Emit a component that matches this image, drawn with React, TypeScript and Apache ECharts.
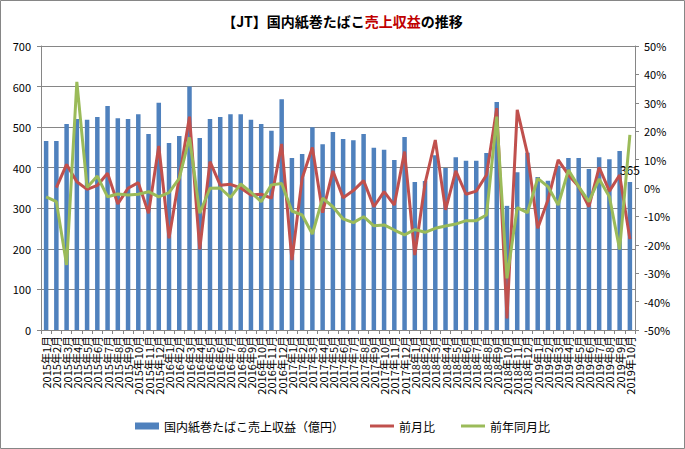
import React, { useEffect, useRef } from "react";
import * as echarts from "echarts";

const years = [2015, 2016, 2017, 2018, 2019];
const monthsPerYear = [12, 12, 12, 12, 10];
const categories: string[] = [];
years.forEach((y, i) => {
  for (let m = 1; m <= monthsPerYear[i]; m++) categories.push(`${y}年${m}月`);
});

const sales = [
  466, 466, 508, 520, 518, 525, 552, 522, 520, 532, 483, 560,
  461, 478, 600, 473, 520, 525, 532, 532, 518, 508, 491, 569,
  424, 434, 500, 458, 488, 471, 468, 483, 449, 444, 419, 476,
  365, 367, 431, 399, 426, 417, 417, 436, 562, 306, 389, 437,
  377, 368, 405, 424, 424, 397, 426, 421, 441, 365,
];

const momChange = [
  null, 0.1, 8.3, 2.2, -0.5, 0.9, 5.2, -5.6, -0.1, 1.9, -8.9, 14.8,
  -17.7, 3.7, 25.1, -21.6, 9.3, 1.0, 1.3, 0.0, -2.5, -2.2, -3.6, 15.5,
  -25.4, 3.4, 14.3, -8.7, 6.0, -3.4, -0.9, 2.6, -6.6, -1.3, -6.0, 12.8,
  -23.6, 1.6, 16.9, -7.7, 6.0, -2.2, -1.1, 4.6, 28.1, -45.9, 27.5, 12.0,
  -14.2, -4.2, 9.9, 4.6, 0.5, -6.6, 7.3, -1.1, 4.6, -18.0,
];

const yoyChange = [
  -3.1, -4.8, -27.1, 37.4, 0.2, 4.2, -3.1, -2.1, -2.5, -2.2, -1.3, -3.1,
  -1.6, 3.4, 17.8, -8.9, -0.1, 0.0, -3.3, 1.4, -1.5, -4.8, 1.1, 1.6,
  -8.1, -9.5, -16.2, -3.6, -6.6, -10.9, -12.2, -10.1, -13.3, -13.0, -14.8, -16.5,
  -14.6, -15.6, -14.2, -13.4, -12.7, -11.5, -11.5, -9.5, 25.1, -31.8, -6.9, -8.7,
  3.4, 0.5, -6.0, 6.3, 0.5, -4.8, 3.2, -3.1, -21.6, 18.7,
];

const seriesNames = ["国内紙巻たばこ売上収益（億円）", "前月比", "前年同月比"];

const FONT = "'Noto Sans CJK JP', 'Noto Sans', sans-serif";
const GRID_COLOR = "#868686";
const LINE_ICON = "path://M0,0 L24,0 L24,3 L0,3 Z";

export default function App() {
  const ref = useRef<HTMLDivElement>(null);
  useEffect(() => {
    if (!ref.current) return;
    const chart = echarts.init(ref.current, undefined, { renderer: "svg" });
    const barData = sales.map((v, i) =>
      i === sales.length - 1
        ? {
            value: v,
            label: {
              show: true,
              position: "top",
              distance: 6,
              color: "#000",
              fontSize: 12,
              fontFamily: FONT,
            },
          }
        : v
    );
    chart.setOption({
      animation: false,
      textStyle: { fontFamily: FONT },
      title: {
        text: "{a|【JT】国内紙巻たばこ}{b|売上収益}{a|の推移}",
        left: "center",
        top: 9,
        textStyle: {
          rich: {
            a: { fontSize: 14, fontWeight: "bold", color: "#000", fontFamily: FONT },
            b: { fontSize: 14, fontWeight: "bold", color: "#C00000", fontFamily: FONT },
          },
        },
      },
      graphic: [
        {
          type: "rect",
          shape: { x: 0.5, y: 0.5, width: 684, height: 448 },
          style: { fill: "none", stroke: GRID_COLOR, lineWidth: 1 },
          silent: true,
        },
      ],
      legend: {
        bottom: 12,
        left: "center",
        itemGap: 26,
        itemWidth: 24,
        itemHeight: 7,
        textStyle: { fontSize: 12, color: "#000", fontFamily: FONT },
        data: [
          { name: seriesNames[0], icon: "rect" },
          { name: seriesNames[1], icon: LINE_ICON },
          { name: seriesNames[2], icon: LINE_ICON },
        ],
      },
      grid: { left: 41, right: 50, top: 46, bottom: 119, containLabel: false },
      xAxis: {
        type: "category",
        data: categories,
        boundaryGap: true,
        axisLine: { show: true, lineStyle: { color: GRID_COLOR } },
        axisTick: { show: true, length: 4, interval: 0, lineStyle: { color: GRID_COLOR } },
        axisLabel: {
          interval: 0,
          rotate: 90,
          fontSize: 11,
          color: "#000",
          margin: 6,
          fontFamily: FONT,
        },
      },
      yAxis: [
        {
          type: "value",
          min: 0,
          max: 700,
          interval: 100,
          position: "left",
          axisLine: { show: true, lineStyle: { color: GRID_COLOR } },
          axisTick: { show: true, length: 4, lineStyle: { color: GRID_COLOR } },
          axisLabel: { fontSize: 11, color: "#000", margin: 10, fontFamily: FONT },
          splitLine: { show: true, lineStyle: { color: GRID_COLOR, width: 1 } },
        },
        {
          type: "value",
          min: -50,
          max: 50,
          interval: 10,
          position: "right",
          axisLine: { show: true, lineStyle: { color: GRID_COLOR } },
          axisTick: { show: true, length: 4, lineStyle: { color: GRID_COLOR } },
          axisLabel: {
            fontSize: 11,
            color: "#000",
            margin: 9,
            formatter: "{value}%",
            fontFamily: FONT,
          },
          splitLine: { show: false },
        },
      ],
      series: [
        {
          name: seriesNames[0],
          type: "bar",
          yAxisIndex: 0,
          data: barData,
          barWidth: 4.5,
          itemStyle: { color: "#4F81BD" },
        },
        {
          name: seriesNames[1],
          type: "line",
          yAxisIndex: 1,
          data: momChange,
          symbol: "none",
          connectNulls: false,
          lineStyle: { color: "#C0504D", width: 3 },
          itemStyle: { color: "#C0504D" },
        },
        {
          name: seriesNames[2],
          type: "line",
          yAxisIndex: 1,
          data: yoyChange,
          symbol: "none",
          lineStyle: { color: "#9BBB59", width: 3 },
          itemStyle: { color: "#9BBB59" },
        },
      ],
    });
    return () => chart.dispose();
  }, []);
  return (
    <div
      ref={ref}
      style={{ position: "absolute", left: 0, top: 0, width: 685, height: 449 }}
    />
  );
}
